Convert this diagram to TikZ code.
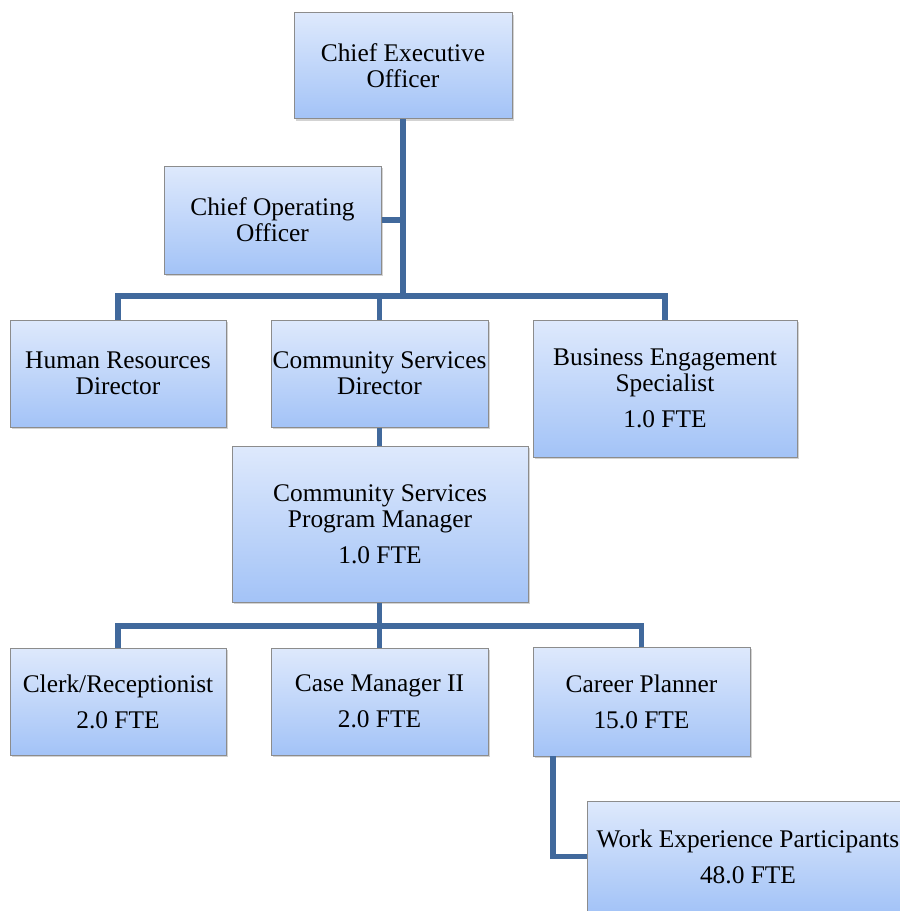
\documentclass[tikz,border=0pt]{standalone}
\usepackage{fontspec}
\setmainfont{Liberation Serif}
\usetikzlibrary{shadows}

\definecolor{boxtop}{RGB}{222,233,252}
\definecolor{boxbot}{RGB}{163,195,247}
\definecolor{boxline}{RGB}{140,140,140}
\definecolor{linkblue}{RGB}{65,105,156}

\begin{document}
\begin{tikzpicture}[x=0.5pt,y=-0.5pt,
	post/.style={draw=boxline,line width=0.5pt,top color=boxtop,bottom color=boxbot,
		drop shadow={shadow xshift=1pt,shadow yshift=-1pt,opacity=0.35},
		align=center,inner sep=0pt,font=\rmfamily\fontsize{12.7}{13}\selectfont},
	link/.style={draw=linkblue,line width=2.6pt,line join=miter}]
	\clip (0,0) rectangle (900,911);
	% top level
	\node[post,minimum width=109pt,minimum height=53pt] (ceo) at (403,65.5) {Chief Executive\\Officer};
	\node[post,minimum width=108.5pt,minimum height=54pt] (coo) at (272.5,220) {Chief Operating\\Officer};
	% directors
	\node[post,minimum width=108pt,minimum height=53.5pt] (hr) at (118,373.5) {Human Resources\\Director};
	\node[post,minimum width=108.5pt,minimum height=53.5pt] (csd) at (379.5,373.5) {Community Services\\Director};
	\node[post,minimum width=132pt,minimum height=68.5pt] (bes) at (665,388.5) {Business Engagement\\Specialist\\[5pt]1.0 FTE};
	% program
	\node[post,minimum width=148pt,minimum height=78pt] (cspm) at (380,524) {Community Services\\Program Manager\\[5pt]1.0 FTE};
	% staff
	\node[post,minimum width=108pt,minimum height=53.5pt] (clerk) at (118,701.5) {Clerk/Receptionist\\[5pt]2.0 FTE};
	\node[post,minimum width=108.5pt,minimum height=53.5pt] (casem) at (379.5,701.5) {Case Manager II\\[5pt]2.0 FTE};
	\node[post,minimum width=108.5pt,minimum height=54.5pt] (cp) at (641.5,701.5) {Career Planner\\[5pt]15.0 FTE};
	\node[post,minimum width=161pt,minimum height=55.5pt] (wep) at (748,856.5) {Work Experience Participants\\[5pt]48.0 FTE};
	% connectors
	\coordinate (top) at (403,296);
	\coordinate (low) at (379.5,626);
	\coordinate (cpout) at (553,756);
	\draw[link] (ceo.south) -- (top);
	\draw[link] (coo.east) -- (coo.east -| top);
	\draw[link] (hr.north) |- (bes.north |- top) -- (bes.north);
	\draw[link] (csd.north) -- (csd.north |- top);
	\draw[link] (csd.south) -- (csd.south |- cspm.north);
	\draw[link] (cspm.south -| low) -- (low);
	\draw[link] (clerk.north) |- (cp.north |- low) -- (cp.north);
	\draw[link] (casem.north) -- (casem.north |- low);
	\draw[link] (cpout) |- (wep.west);
\end{tikzpicture}
\end{document}
